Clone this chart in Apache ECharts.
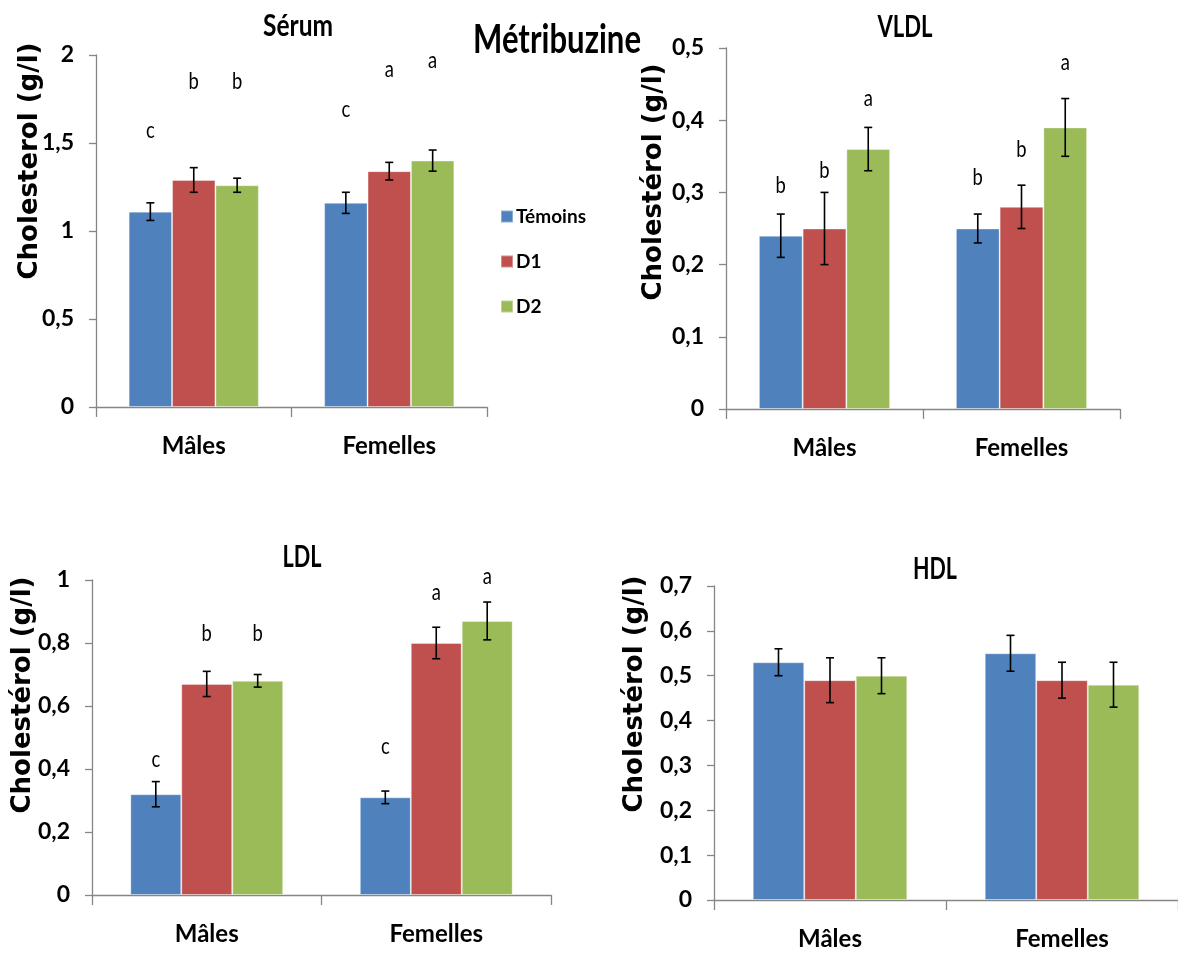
<!DOCTYPE html>
<html>
<head>
<meta charset="utf-8">
<script src="https://cdn.jsdelivr.net/npm/echarts@6/dist/echarts.min.js"></script>
<style>
html,body{margin:0;padding:0;background:#fff;}
#chart{width:1178px;height:953px;}
</style>
</head>
<body>
<div id="chart"></div>
<script>
// ---------- data ----------
const categories = ['Mâles', 'Femelles'];
const groups = ['Témoins', 'D1', 'D2'];

// rows: Témoins, D1, D2 ; columns: Mâles, Femelles
const serumMeans = [[1.11, 1.16], [1.29, 1.34], [1.26, 1.40]];
const serumErrors = [[0.05, 0.06], [0.07, 0.05], [0.04, 0.06]];
const serumLetters = [['c', 'c'], ['b', 'a'], ['b', 'a']];
const serumLetterY = [[1.57, 1.69], [1.85, 1.92], [1.85, 1.97]];

const vldlMeans = [[0.24, 0.25], [0.25, 0.28], [0.36, 0.39]];
const vldlErrors = [[0.03, 0.02], [0.05, 0.03], [0.03, 0.04]];
const vldlLetters = [['b', 'b'], ['b', 'b'], ['a', 'a']];
const vldlLetterY = [[0.31, 0.32], [0.33, 0.36], [0.43, 0.48]];

const ldlMeans = [[0.32, 0.31], [0.67, 0.80], [0.68, 0.87]];
const ldlErrors = [[0.04, 0.02], [0.04, 0.05], [0.02, 0.06]];
const ldlLetters = [['c', 'c'], ['b', 'a'], ['b', 'a']];
const ldlLetterY = [[0.43, 0.47], [0.83, 0.96], [0.83, 1.01]];

const hdlMeans = [[0.53, 0.55], [0.49, 0.49], [0.50, 0.48]];
const hdlErrors = [[0.03, 0.04], [0.05, 0.04], [0.04, 0.05]];

// y axis scales: [min, max, interval]
const serumTicks = [0, 2, 0.5];
const vldlTicks = [0, 0.5, 0.1];
const ldlTicks = [0, 1, 0.2];
const hdlTicks = [0, 0.7, 0.1];

const colors = ['#4F81BD', '#C0504D', '#9BBB59'];

// ---------- styling ----------
const NARROW = "Lato,'Liberation Sans',sans-serif";
const WIDE = "'DejaVu Sans',Verdana,sans-serif";
const AXIS_COLOR = '#868686';
const CAT_GAP = 0.334;

const measureCtx = document.createElement('canvas').getContext('2d');
function fitScale(text, font, targetWidth) {
  measureCtx.font = font;
  const w = measureCtx.measureText(text).width;
  return w > 0 ? targetWidth / w : 1;
}

const panels = [
  { title: 'Sérum', titleW: 70, yName: 'Cholesterol (g/l)', means: serumMeans, errs: serumErrors, letters: serumLetters, letterY: serumLetterY, ticks: serumTicks,
    grid: { left: 96, top: 55, width: 391, height: 352 }, titlePos: [298, 26], yNamePos: [30, 161] },
  { title: 'VLDL', titleW: 55, yName: 'Cholestérol (g/l)', means: vldlMeans, errs: vldlErrors, letters: vldlLetters, letterY: vldlLetterY, ticks: vldlTicks,
    grid: { left: 726, top: 48, width: 394, height: 361 }, titlePos: [905, 27], yNamePos: [654, 182] },
  { title: 'LDL', titleW: 39, yName: 'Cholestérol (g/l)', means: ldlMeans, errs: ldlErrors, letters: ldlLetters, letterY: ldlLetterY, ticks: ldlTicks,
    grid: { left: 92, top: 580, width: 459, height: 315 }, titlePos: [302, 557], yNamePos: [23, 695] },
  { title: 'HDL', titleW: 44, yName: 'Cholestérol (g/l)', means: hdlMeans, errs: hdlErrors, letters: null, letterY: null, ticks: hdlTicks,
    grid: { left: 714, top: 586, width: 470, height: 314 }, titlePos: [935, 569], yNamePos: [635, 694] }
];

const grids = [], xAxes = [], yAxes = [], series = [], graphics = [];

panels.forEach(function (p, pi) {
  grids.push(Object.assign({ containLabel: false }, p.grid));
  xAxes.push({
    type: 'category', gridIndex: pi, data: categories,
    axisLine: { lineStyle: { color: AXIS_COLOR, width: 1.3 } },
    axisTick: { show: true, length: 10, lineStyle: { color: AXIS_COLOR, width: 1.3 } },
    axisLabel: { margin: 27, color: '#000', fontFamily: NARROW, fontWeight: 'bold', fontSize: 24 },
    splitLine: { show: false }
  });
  yAxes.push({
    type: 'value', gridIndex: pi, min: p.ticks[0], max: p.ticks[1], interval: p.ticks[2],
    axisLine: { show: true, lineStyle: { color: AXIS_COLOR, width: 1.3 } },
    axisTick: { show: true, length: 7, lineStyle: { color: AXIS_COLOR, width: 1.3 } },
    axisLabel: { margin: 22, color: '#000', fontFamily: NARROW, fontWeight: 'bold', fontSize: 23,
      formatter: function (v) { return String(Math.round(v * 10) / 10).replace('.', ','); } },
    splitLine: { show: false }
  });
  groups.forEach(function (g, gi) {
    series.push({
      type: 'bar', name: g, xAxisIndex: pi, yAxisIndex: pi,
      data: p.means[gi], barGap: '0%', barCategoryGap: (CAT_GAP * 100) + '%',
      itemStyle: { color: colors[gi], borderColor: 'rgba(255,255,255,0.35)', borderWidth: 1 },
      emphasis: { disabled: true }, animation: false
    });
  });
  const errData = [];
  for (let gi = 0; gi < 3; gi++) {
    for (let ci = 0; ci < categories.length; ci++) {
      errData.push([ci, p.means[gi][ci], p.errs[gi][ci], gi, p.letterY ? p.letterY[gi][ci] : 0]);
    }
  }
  const letters = p.letters;
  series.push({
    type: 'custom', xAxisIndex: pi, yAxisIndex: pi, z: 10, animation: false, silent: true,
    data: errData,
    encode: { x: 0, y: 1 },
    renderItem: function (params, api) {
      const c = api.value(0), m = api.value(1), e = api.value(2), gi = api.value(3), ly = api.value(4);
      const band = api.size([1, 0])[0];
      const bw = band * (1 - CAT_GAP) / 3;
      const x = api.coord([c, 0])[0] + (gi - 1) * bw;
      const yt = api.coord([c, m + e])[1];
      const yb = api.coord([c, m - e])[1];
      const st = { stroke: '#000', lineWidth: 1.6 };
      const children = [
        { type: 'line', shape: { x1: x, y1: yt, x2: x, y2: yb }, style: st },
        { type: 'line', shape: { x1: x - 4, y1: yt, x2: x + 4, y2: yt }, style: st },
        { type: 'line', shape: { x1: x - 4, y1: yb, x2: x + 4, y2: yb }, style: st }
      ];
      if (letters) {
        const l = letters[gi][c];
        children.push({ type: 'text', x: x, y: api.coord([c, ly])[1], scaleX: 0.8,
          style: { text: l, fill: '#000', font: '23px ' + NARROW, align: 'center', verticalAlign: 'middle' } });
      }
      return { type: 'group', children: children };
    }
  });
  const tFont = 'bold 30px ' + NARROW;
  graphics.push({ type: 'text', x: p.titlePos[0], y: p.titlePos[1], z: 100, scaleX: fitScale(p.title, tFont, p.titleW),
    style: { text: p.title, fill: '#000', font: tFont, align: 'center', verticalAlign: 'middle' } });
  graphics.push({ type: 'text', x: p.yNamePos[0], y: p.yNamePos[1], rotation: Math.PI / 2, z: 100,
    style: { text: p.yName, fill: '#000', font: 'bold 26px ' + WIDE, align: 'center', verticalAlign: 'middle' } });
});

const mainFont = 'bold 40px ' + NARROW;
graphics.push({ type: 'text', x: 557, y: 40, z: 100, scaleX: fitScale('Métribuzine', mainFont, 168),
  style: { text: 'Métribuzine', fill: '#000', font: mainFont, align: 'center', verticalAlign: 'middle' } });

const chart = echarts.init(document.getElementById('chart'), null, { renderer: 'canvas' });
chart.setOption({
  backgroundColor: '#fff',
  animation: false,
  legend: {
    data: groups, orient: 'vertical', left: 495, top: 202, itemWidth: 12, itemHeight: 12, itemGap: 26,
    icon: 'rect', selectedMode: false,
    textStyle: { color: '#000', fontFamily: NARROW, fontWeight: 'bold', fontSize: 19, padding: [0, 0, 0, -2] }
  },
  grid: grids,
  xAxis: xAxes,
  yAxis: yAxes,
  series: series,
  graphic: graphics
});
</script>
</body>
</html>
